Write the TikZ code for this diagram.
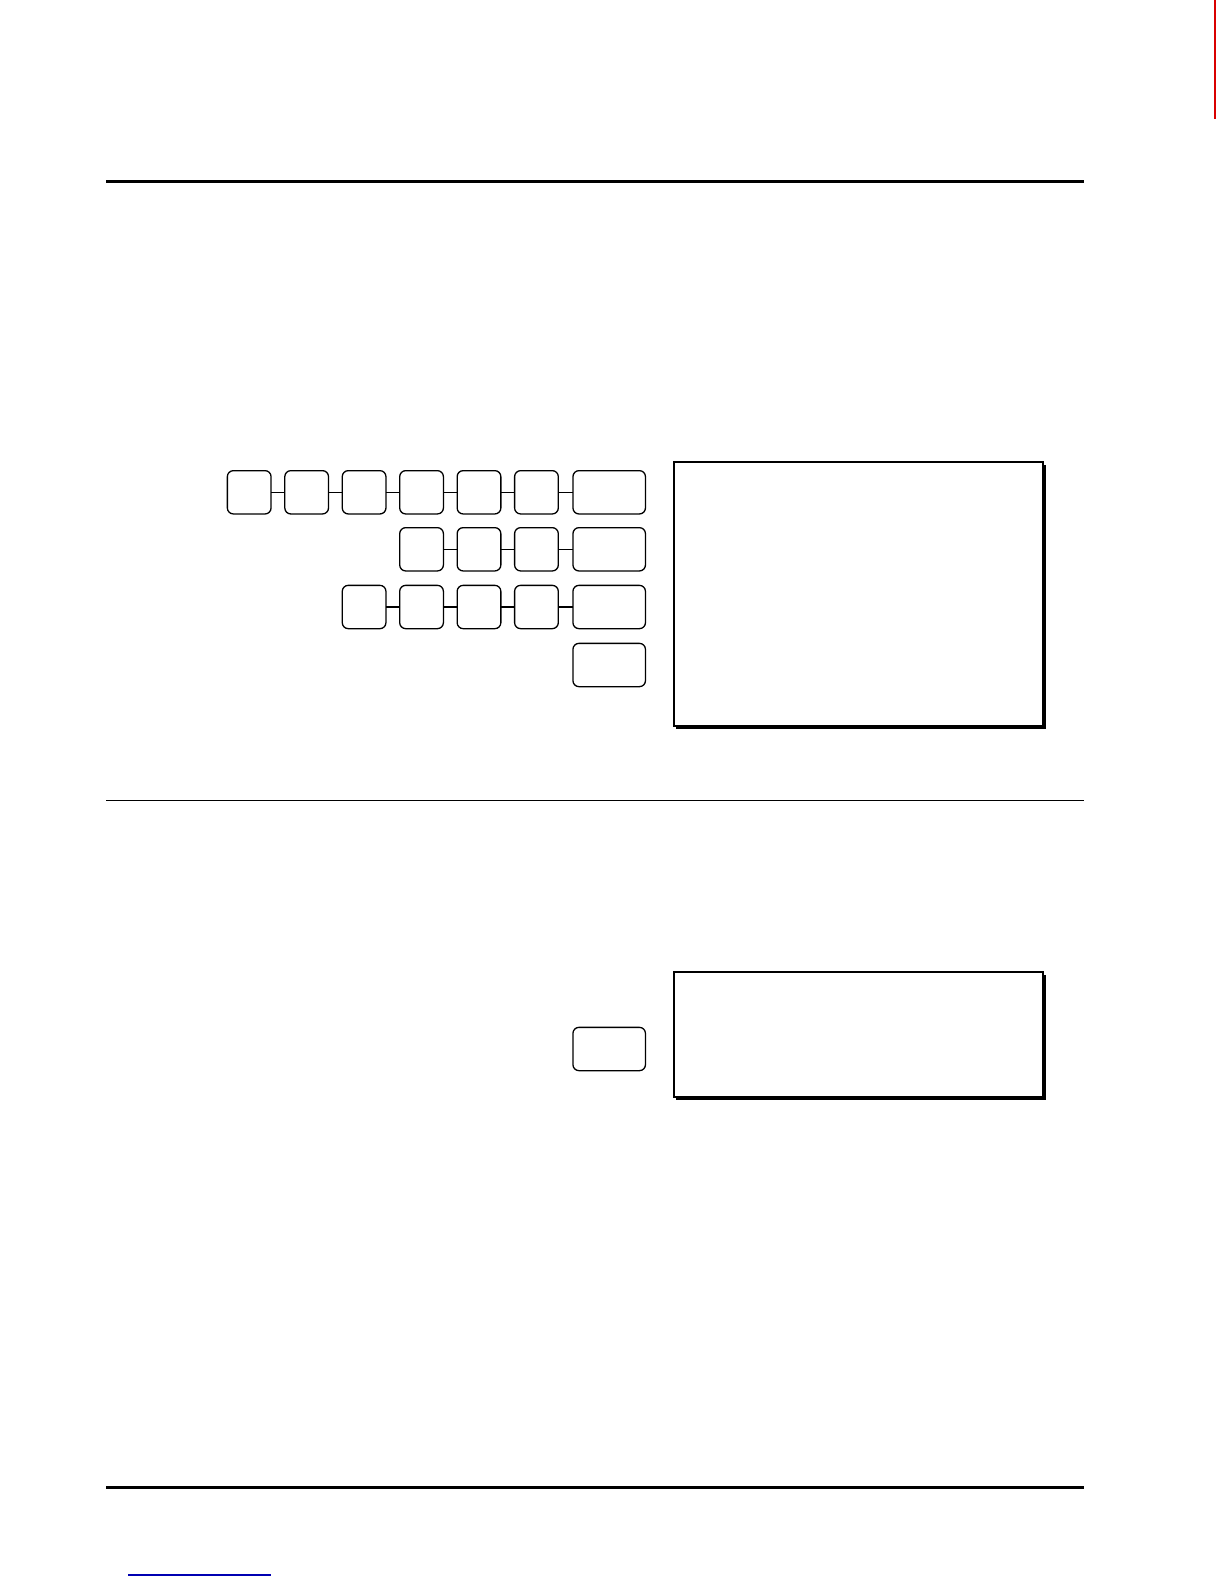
\documentclass[tikz,border=0pt]{standalone}
\usetikzlibrary{positioning}
\begin{document}
\begin{tikzpicture}[x=1pt,y=-1pt,
  keybox/.style={draw=black,line width=1.3pt,rounded corners=6pt,minimum width=43.7pt,minimum height=43.3pt,inner sep=0pt,outer sep=0pt},
  widekey/.style={keybox,minimum width=72.5pt},
  link/.style={draw=black,line width=1.2pt},
  rulethick/.style={line width=2.6pt},
  rulethin/.style={line width=1.8pt},
  dispbox/.style={draw=black,line width=1.8pt,fill=white,minimum width=369.6pt,inner sep=0pt,outer sep=0pt}]
\useasboundingbox[fill=white] (0,0) rectangle (1224,1584);
% rules
\coordinate (r1a) at (106,181.5); \coordinate (r1b) at (1084,181.5);
\coordinate (r2a) at (106,800.5); \coordinate (r2b) at (1084,800.5);
\coordinate (r3a) at (106,1487.5); \coordinate (r3b) at (1084,1487.5);
\draw[rulethick] (r1a) -- (r1b);
\draw[rulethin] (r2a) -- (r2b);
\draw[rulethick] (r3a) -- (r3b);
\coordinate (bla) at (128,1575); \coordinate (blb) at (271,1575);
\draw[blue!70!black,line width=1.3pt] (bla) -- (blb);
\coordinate (rda) at (1215,0); \coordinate (rdb) at (1215,119);
\draw[red!85!black,line width=1.2pt] (rda) -- (rdb);
% row 1
\node[keybox] (a1) at (249.2,492.3) {};
\node[keybox] (a2) at (306.65,492.3) {};
\node[keybox] (a3) at (364.1,492.3) {};
\node[keybox] (a4) at (421.55,492.3) {};
\node[keybox] (a5) at (479,492.3) {};
\node[keybox] (a6) at (536.45,492.3) {};
\node[widekey] (a7) at (609.2,492.3) {};
\draw[link] (a1) -- (a2); \draw[link] (a2) -- (a3); \draw[link] (a3) -- (a4);
\draw[link] (a4) -- (a5); \draw[link] (a5) -- (a6); \draw[link] (a6) -- (a7);
% row 2
\node[keybox] (b1) at (421.55,549.3) {};
\node[keybox] (b2) at (479,549.3) {};
\node[keybox] (b3) at (536.45,549.3) {};
\node[widekey] (b4) at (609.2,549.3) {};
\draw[link] (b1) -- (b2); \draw[link] (b2) -- (b3); \draw[link] (b3) -- (b4);
% row 3
\node[keybox] (c1) at (364.1,607) {};
\node[keybox] (c2) at (421.55,607) {};
\node[keybox] (c3) at (479,607) {};
\node[keybox] (c4) at (536.45,607) {};
\node[widekey] (c5) at (609.2,607) {};
\draw[link] (c1) -- (c2); \draw[link] (c2) -- (c3); \draw[link] (c3) -- (c4); \draw[link] (c4) -- (c5);
% row 4
\node[widekey] (d1) at (609.2,665) {};
% lower key
\node[widekey] (e1) at (609.2,1049) {};
% display boxes with shadow
\fill[black] (676.2,464.5) rectangle (1045.8,728.5);
\node[dispbox,minimum height=264pt] (disp1) at (858.5,594) {};
\fill[black] (676.2,974.8) rectangle (1045.8,1099.8);
\node[dispbox,minimum height=125pt] (disp2) at (858.5,1034.8) {};
\end{tikzpicture}
\end{document}
